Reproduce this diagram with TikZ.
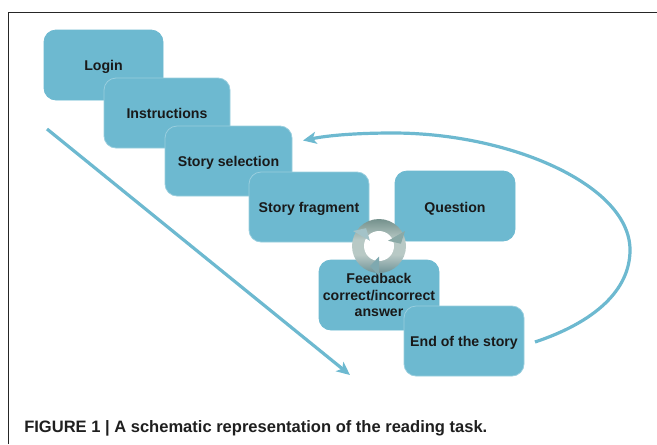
\documentclass[tikz,border=0pt]{standalone}
\usepackage{fontspec}
\setmainfont{Liberation Sans}
\usetikzlibrary{arrows.meta,calc}
\definecolor{boxblue}{HTML}{6DB9D0}
\definecolor{ringtop}{HTML}{74918C}
\definecolor{ringmid}{HTML}{B8C9C5}
\definecolor{ringbot}{HTML}{6F9397}
\definecolor{tipa}{HTML}{8AA9A6}
\definecolor{tipb}{HTML}{7FA9B0}
\definecolor{tipc}{HTML}{A4C3C8}
\pgfdeclareverticalshading{ringshade}{100bp}{color(0bp)=(ringbot); color(25bp)=(ringbot); color(42bp)=(ringmid); color(56bp)=(ringmid); color(75bp)=(ringtop); color(100bp)=(ringtop)}
\tikzset{
  stepbox/.style={draw=#1,line width=0.6pt,fill=boxblue,rounded corners=9pt,minimum height=52.5pt,inner sep=0pt,align=center,font=\bfseries\fontsize{10.6}{12.6}\selectfont,text=black!90},
  stepbox/.default=boxblue!70!white,
  flow/.style={draw=boxblue,line width=2.4pt,-{Stealth[length=10pt,width=9pt,inset=2.5pt]}},
  ringtip/.style={fill=#1}
}
\newcommand{\lowered}[1]{\raisebox{-3.75pt}[0pt][0pt]{#1}}
\newcommand{\ringhead}[2]{%
  \fill[ringtip=#2] ($(ring)+(#1:30)$) -- ($(ring)+(#1:10.5)$) -- ($(ring)+(#1+24:22)$) -- cycle;
}
\begin{document}
\begin{tikzpicture}[x=0.75pt,y=-0.75pt]
\useasboundingbox (0,0) rectangle (657,444);
\draw[line width=0.75pt,black!85] (8,444) -- (8,12) -- (657,12);
\node[stepbox=boxblue,minimum width=89.25pt] (login) at (103.5,65) {\lowered{Login}};
\node[stepbox,minimum width=94.5pt] (instr) at (167,113) {\lowered{Instructions}};
\node[stepbox,minimum width=95.25pt] (select) at (228.5,161) {\lowered{Story selection}};
\node[stepbox,minimum width=90pt] (frag) at (309,207) {\lowered{Story fragment}};
\node[stepbox=boxblue,minimum width=90pt] (question) at (455,206) {\raisebox{-4.5pt}[0pt][0pt]{Question}};
\node[stepbox=boxblue,minimum width=90pt] (feedback) at (379,295) {Feedback\\correct/incorrect\\answer};
\coordinate (ring) at (379,246);
\shade[shading=ringshade] (ring) circle[radius=27];
\fill[white] (ring) circle[radius=15];
\ringhead{-30}{tipa}
\ringhead{90}{tipb}
\ringhead{210}{tipc}
\node[stepbox,minimum width=90pt] (end) at (464,341) {\lowered{End of the story}};
\coordinate (diagstart) at (47,129);
\coordinate (diagend) at (350,375);
\draw[flow] (diagstart) -- (diagend);
\coordinate (loopstart) at (535,342);
\coordinate (loopend) at (303,140.5);
\draw[flow] (loopstart) .. controls (595,322) and (630,290) .. (630,250) .. controls (630,185) and (510,133) .. (393,133) .. controls (360,133) and (330,135) .. (loopend);
\node[anchor=west,inner sep=0pt,font=\bfseries\fontsize{12.4}{14}\selectfont,text=black!88] (caption) at (24,428) {FIGURE 1 | A schematic representation of the reading task.};
\end{tikzpicture}
\end{document}
